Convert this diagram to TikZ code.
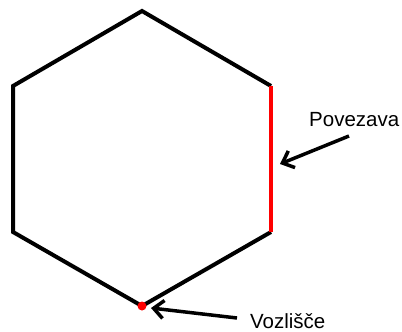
\documentclass[tikz,border=0pt]{standalone}
\usepackage{fontspec}
\setmainfont{Liberation Sans}
\usetikzlibrary{arrows.meta}
\tikzset{
  edge/.style={line width=4pt, line join=miter},
  redge/.style={line width=4pt, red},
  pointer/.style={line width=3.5pt, -{Straight Barb[length=10pt,width=18pt,line width=3.5pt]}},
  lbl/.style={font=\fontsize{20.5}{25}\selectfont, inner sep=0pt, anchor=base west}
}
\begin{document}
\begin{tikzpicture}[x=1pt,y=-1pt]
\useasboundingbox (0,0) rectangle (402,332);
\coordinate (T) at (142,11);
\coordinate (UR) at (271,86);
\coordinate (LR) at (271,232);
\coordinate (B) at (142,306);
\coordinate (LL) at (13,232);
\coordinate (UL) at (13,86);
\draw[edge] (UR) -- (T) -- (UL) -- (LL) -- (B) -- (LR);
\draw[redge] (UR) -- (LR);
\fill[red] (B) circle (4.5pt);
\node[lbl] (pov) at (309,126) {Povezava};
\node[lbl] (voz) at (250,328) {Vozlišče};
\coordinate (povtail) at (349,136);
\coordinate (povtip) at (280,164);
\coordinate (voztail) at (237,318);
\coordinate (voztip) at (151,308);
\draw[pointer] (povtail) -- (povtip);
\draw[pointer] (voztail) -- (voztip);
\end{tikzpicture}
\end{document}
